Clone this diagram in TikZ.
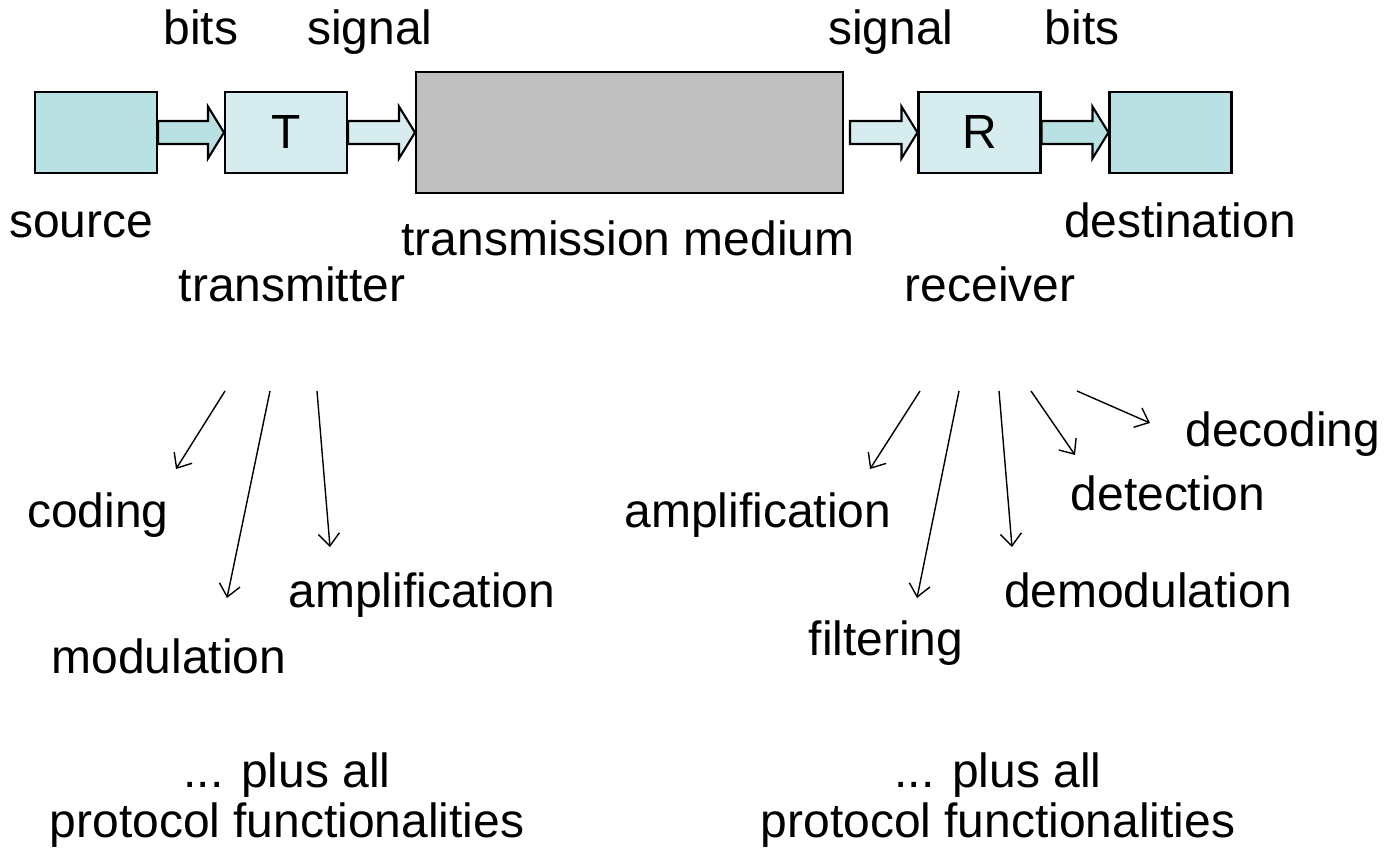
\documentclass[tikz,border=0pt]{standalone}
\usepackage{fontspec}
\setmainfont{Liberation Sans}
\usetikzlibrary{arrows.meta, calc, positioning}
\definecolor{tealdark}{HTML}{B9E0E3}
\definecolor{teallight}{HTML}{D7ECEF}
\definecolor{mediumgray}{HTML}{C0C0C0}
\tikzset{
  >={Straight Barb[length=7pt, width=12pt]},
  every node/.style={font=\fontsize{27.3}{28.4}\selectfont},
  block/.style={draw, line width=1.2pt, minimum width=2.44cm, minimum height=1.62cm, inner sep=0pt},
  endbox/.style={block, fill=tealdark},
  relay/.style={block, fill=teallight},
  lbl/.style={anchor=base, inner sep=0pt},
  fn/.style={->, line width=0.8pt}
}
% fat arrow from #1 to #2, filled with #3
\newcommand{\blockarrow}[3]{%
  \draw[line width=1.2pt, fill=#3] ($(#1)+(0,-11.5)$) -- ($(#2)+(-16,-11.5)$) -- ($(#2)+(-16,-26)$)
    -- (#2) -- ($(#2)+(-16,26)$) -- ($(#2)+(-16,11.5)$) -- ($(#1)+(0,11.5)$) -- cycle;}

\begin{document}
\begin{tikzpicture}[x=0.02cm, y=-0.02cm]
  \useasboundingbox (0,0) rectangle (1384,851);

  % chain
  \node[endbox] (src) at (96,132.5) {};
  \node[relay] (tx) at (286,132.5) {T};
  \node[draw, line width=1.2pt, fill=mediumgray, minimum width=8.54cm, minimum height=2.42cm] (medium) at (629.5,132.5) {};
  \node[relay] (rx) at (979.5,132.5) {R};
  \node[endbox] (dst) at (1170.5,132.5) {};
  \coordinate (rxin) at ($(medium.east)+(6,0)$);

  \blockarrow{src.east}{tx.west}{tealdark}
  \blockarrow{tx.east}{medium.west}{teallight}
  \blockarrow{rxin}{rx.west}{teallight}
  \blockarrow{rx.east}{dst.west}{tealdark}

  % labels
  \node[lbl] (bits-l) at (201,45) {bits};
  \node[lbl] (sig-l) at (370,45) {signal};
  \node[lbl] (sig-r) at (891,45) {signal};
  \node[lbl] (bits-r) at (1082,45) {bits};
  \node[lbl] (src-lbl) at (81,238) {source};
  \node[lbl] (med-lbl) at (628,256) {transmission medium};
  \node[lbl] (dst-lbl) at (1180,238) {destination};
  \node[lbl] (tx-lbl) at (292,302) {transmitter};
  \node[lbl] (rx-lbl) at (990,302) {receiver};

  % transmitter functions
  \node[lbl] (coding) at (98,527) {coding};
  \node[lbl] (modulation) at (169,673) {modulation};
  \node[lbl] (tx-amp) at (422,607) {amplification};
  \node[lbl, align=center] (tx-plus) at (287,837) {... plus all\\protocol functionalities};

  % receiver functions
  \node[lbl] (rx-amp) at (758,527) {amplification};
  \node[lbl] (filtering) at (886,655) {filtering};
  \node[lbl] (demodulation) at (1148,607) {demodulation};
  \node[lbl] (detection) at (1168,510) {detection};
  \node[lbl] (decoding) at (1283,447) {decoding};
  \node[lbl, align=center] (rx-plus) at (998,837) {... plus all\\protocol functionalities};

  \foreach \n/\sx/\ex/\ey in {cod/225/176/469, mod/270/227/598, tamp/317/330/547,
      ramp/920/870/469, filt/959/917/598, demod/999/1012/547, det/1031/1075/455, dec/1077/1150/423}
  {
    \coordinate (\n-s) at (\sx,391);
    \coordinate (\n-e) at (\ex,\ey);
    \draw[fn] (\n-s) -- (\n-e);
  }
\end{tikzpicture}
\end{document}
